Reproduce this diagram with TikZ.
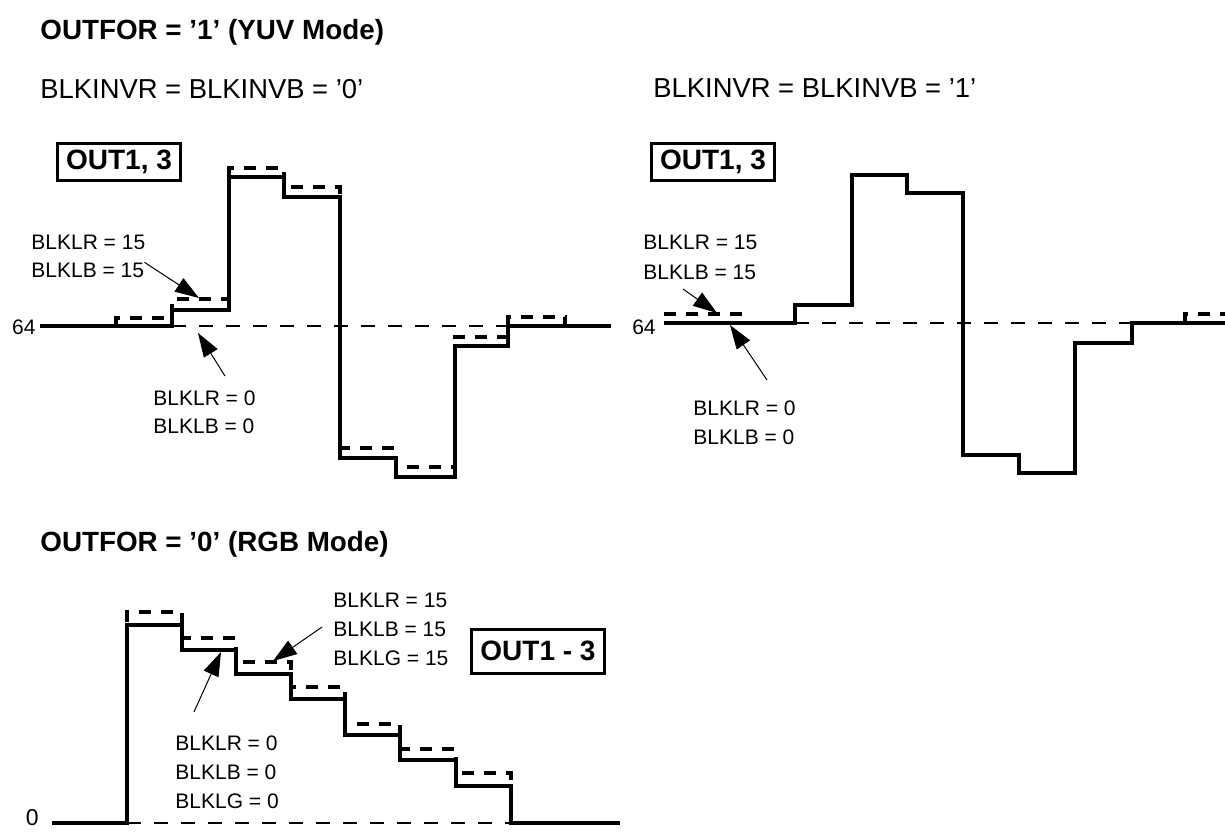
\documentclass[tikz,border=0pt]{standalone}
\usepackage{fontspec}
\setmainfont{Liberation Sans}
\usetikzlibrary{arrows.meta,positioning}

\begin{document}
\begin{tikzpicture}[
  x={(0.5pt,0pt)},
  y={(0pt,-0.5pt)},
  signal/.style={line width=2pt},
  blklevel/.style={line width=2pt,dash pattern=on 6pt off 5pt},
  reflevel/.style={line width=0.8pt,dash pattern=on 7pt off 6.5pt},
  ptr/.style={line width=0.5pt,-{Triangle[length=12pt,width=8pt]}},
  lbl/.style={font=\fontsize{10.5}{12}\selectfont,inner sep=0pt,anchor=west},
  heading/.style={font=\fontsize{13.7}{16}\selectfont,inner sep=0pt,anchor=west},
  boldheading/.style={heading,font=\fontsize{13.9}{16}\selectfont\bfseries},
  outbox/.style={
    draw,
    line width=1.5pt,
    font=\fontsize{14}{16}\selectfont\bfseries,
    inner xsep=4.5pt,
    minimum height=18pt
  }
]
\useasboundingbox (0,0) rectangle (1225,831);

% Headings
\node[boldheading] (yuvtitle) at (40,32) {OUTFOR = '1' (YUV Mode)};
\node[heading] (invoff) at (40,89) {BLKINVR = BLKINVB = '0'};
\node[heading] (invon) at (653,88) {BLKINVR = BLKINVB = '1'};
\node[boldheading] (rgbtitle) at (40,544) {OUTFOR = '0' (RGB Mode)};

% Output boxes
\node[outbox] (boxoff) at (119,162) {OUT1, 3};
\node[outbox] (boxon) at (713,162) {OUT1, 3};
\node[outbox,minimum height=22pt] (boxrgb) at (538,651) {OUT1 - 3};

% Level labels
\node[lbl,anchor=east] (lvloff) at (36,327) {64};
\node[lbl,anchor=east] (lvlon) at (656,327) {64};
\node[lbl,anchor=east,font=\fontsize{11.5}{12}\selectfont] (lvlrgb) at (39,818) {0};

% ---------------- YUV, BLKINVR = BLKINVB = '0'
\draw[signal] (40,326) -- (172,326) -- (172,310) -- (229,310) -- (229,177)
  -- (284,177) -- (284,197) -- (340,197) -- (340,458) -- (396,458)
  -- (396,477) -- (455,477) -- (455,346) -- (508,346) -- (508,326) -- (611,326);
\draw[blklevel] (116,326) -- (116,318) -- (172,318) -- (172,299) -- (229,299)
  -- (229,168) -- (284,168) -- (284,187) -- (340,187) -- (340,448) -- (396,448)
  -- (396,467) -- (455,467) -- (455,337) -- (508,337) -- (508,317) -- (565,317)
  -- (565,326);
\draw[reflevel] (172,326) -- (508,326);

\coordinate (offhitip) at (199,298);
\coordinate (offlotip) at (198,333);
\coordinate (offlotail) at (225,376);

\node[lbl] (offhiR) at (31,242) {BLKLR = 15};
\node[lbl,below=14pt of offhiR.west,anchor=west] (offhiB) {BLKLB = 15};
\node[lbl] (offloR) at (153,398) {BLKLR = 0};
\node[lbl,below=14pt of offloR.west,anchor=west] (offloB) {BLKLB = 0};

\draw[ptr] (offhiB.north east) -- (offhitip);
\draw[ptr] (offlotail) -- (offlotip);

% ---------------- YUV, BLKINVR = BLKINVB = '1'
\draw[signal] (664,323) -- (795,323) -- (795,305) -- (852,305) -- (852,175)
  -- (907,175) -- (907,193) -- (963,193) -- (963,455) -- (1019,455)
  -- (1019,473) -- (1075,473) -- (1075,343) -- (1132,343) -- (1132,323) -- (1225,323);
\draw[blklevel] (664,314) -- (740,314) -- (740,323);
\draw[blklevel] (1185,323) -- (1185,314) -- (1225,314);
\draw[reflevel] (795,323) -- (1132,323);

\coordinate (onhitail) at (683,289);
\coordinate (onhitip) at (717,313);
\coordinate (onlotail) at (767,380);
\coordinate (onlotip) at (730,325);

\node[lbl] (onhiR) at (643,242) {BLKLR = 15};
\node[lbl,below=15pt of onhiR.west,anchor=west] (onhiB) {BLKLB = 15};
\node[lbl] (onloR) at (693,408) {BLKLR = 0};
\node[lbl,below=14.5pt of onloR.west,anchor=west] (onloB) {BLKLB = 0};

\draw[ptr] (onhitail) -- (onhitip);
\draw[ptr] (onlotail) -- (onlotip);

% ---------------- RGB
\draw[signal] (52,823) -- (127,823) -- (127,625) -- (182,625) -- (182,650)
  -- (236,650) -- (236,674) -- (291,674) -- (291,699) -- (345,699) -- (345,735)
  -- (400,735) -- (400,760) -- (456,760) -- (456,786) -- (511,786) -- (511,823)
  -- (620,823);
\draw[blklevel] (127,622) -- (127,612) -- (182,612) -- (182,638) -- (236,638)
  -- (236,662) -- (291,662) -- (291,687) -- (345,687) -- (345,724) -- (400,724)
  -- (400,749) -- (456,749) -- (456,773) -- (511,773) -- (511,786);
\draw[reflevel] (127,823) -- (511,823);

\coordinate (rgbhitail) at (322,627);
\coordinate (rgbhitip) at (273,661);
\coordinate (rgblotail) at (194,712);
\coordinate (rgblotip) at (221,652);

\node[lbl] (rgbhiR) at (333,600) {BLKLR = 15};
\node[lbl,below=14.5pt of rgbhiR.west,anchor=west] (rgbhiB) {BLKLB = 15};
\node[lbl,below=14.5pt of rgbhiB.west,anchor=west] (rgbhiG) {BLKLG = 15};
\node[lbl] (rgbloR) at (175,743) {BLKLR = 0};
\node[lbl,below=14.5pt of rgbloR.west,anchor=west] (rgbloB) {BLKLB = 0};
\node[lbl,below=14.5pt of rgbloB.west,anchor=west] (rgbloG) {BLKLG = 0};

\draw[ptr] (rgbhitail) -- (rgbhitip);
\draw[ptr] (rgblotail) -- (rgblotip);

\end{tikzpicture}
\end{document}
